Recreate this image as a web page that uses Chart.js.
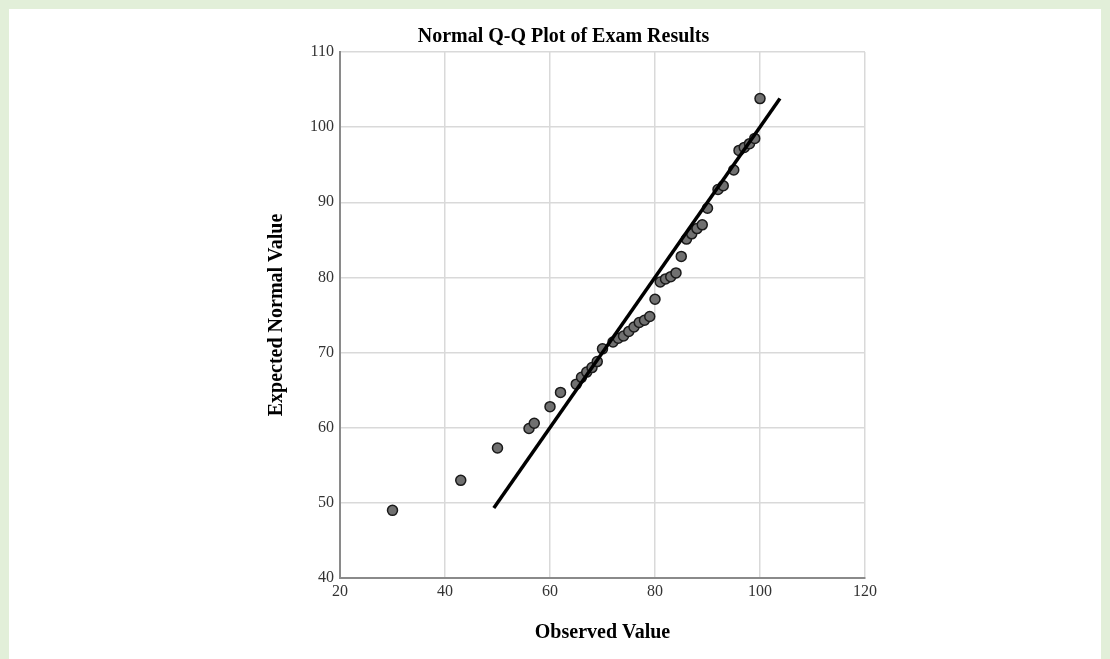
<!DOCTYPE html>
<html>
<head>
<meta charset="utf-8">
<script src="https://cdn.jsdelivr.net/npm/chart.js@4.4.1/dist/chart.umd.min.js"></script>
<style>
  html, body { margin: 0; padding: 0; }
  body { width: 1110px; height: 659px; background: #e2efd9; position: relative; overflow: hidden; }
  #sheet { position: absolute; left: 9px; top: 9px; right: 9px; bottom: 0; background: #fff; }
  #qqChart { position: absolute; left: 0; top: 0; }
</style>
</head>
<body>
<div id="sheet"></div>
<canvas id="qqChart" width="1110" height="659"></canvas>
<script>
// observed exam scores and their expected normal values
const observed = [30, 43, 50, 56, 57, 60, 62, 65, 66, 67, 68, 69, 70, 72, 73, 74, 75, 76, 77, 78,
                  79, 80, 81, 82, 83, 84, 85, 86, 87, 88, 89, 90, 92, 93, 95, 96, 97, 98, 99, 100];
const expected = [49.0, 53.0, 57.3, 59.9, 60.6, 62.8, 64.7, 65.8, 66.7, 67.4, 68.0, 68.8, 70.5, 71.4, 71.9, 72.2, 72.8, 73.4, 74.0, 74.3,
                  74.8, 77.1, 79.4, 79.8, 80.1, 80.6, 82.8, 85.1, 85.8, 86.5, 87.0, 89.2, 91.7, 92.2, 94.3, 96.9, 97.3, 97.8, 98.5, 103.8];

// reference line (y = x) end points
const refLine = [49.3, 103.8];

// axis ticks
const xTicks = [20, 40, 60, 80, 100, 120];
const yTicks = [40, 50, 60, 70, 80, 90, 100, 110];

const serif = "'Liberation Serif', 'Times New Roman', serif";

const points = observed.map((v, i) => ({ x: v, y: expected[i] }));
const linePts = refLine.map(v => ({ x: v, y: v }));

new Chart(document.getElementById('qqChart'), {
    type: 'scatter',
    data: {
        datasets: [
            {
                type: 'line',
                data: linePts,
                borderColor: '#000',
                borderWidth: 3.5,
                pointRadius: 0,
                fill: false
            },
            {
                data: points,
                backgroundColor: '#707070',
                borderColor: '#1a1a1a',
                borderWidth: 1.5,
                pointRadius: 5
            }
        ]
    },
    options: {
        responsive: false,
        animation: false,
        devicePixelRatio: 1,
        layout: { padding: { left: 262, right: 245, top: 25, bottom: 0 } },
        plugins: {
            legend: { display: false },
            tooltip: { enabled: false },
            title: {
                display: true,
                text: 'Normal Q-Q Plot of Exam Results',
                color: '#000',
                font: { family: serif, size: 20, weight: 'bold' },
                padding: { top: 0, bottom: 3 }
            }
        },
        scales: {
            x: {
                type: 'linear',
                min: 20,
                max: 120,
                afterBuildTicks: s => { s.ticks = xTicks.map(v => ({ value: v })); },
                afterFit: s => { s.height = 81; },
                border: { color: '#8a8a8a', width: 2 },
                grid: { color: '#d9d9d9', lineWidth: 1.5, drawTicks: false },
                ticks: { color: '#333', font: { family: serif, size: 16 }, padding: 4, maxRotation: 0 },
                title: {
                    display: true,
                    text: 'Observed Value',
                    color: '#000',
                    font: { family: serif, size: 20, weight: 'bold' },
                    padding: { top: 0, bottom: 14 }
                }
            },
            y: {
                type: 'linear',
                min: 40,
                max: 110,
                afterBuildTicks: s => { s.ticks = yTicks.map(v => ({ value: v })); },
                afterFit: s => { s.width = 78; },
                border: { color: '#8a8a8a', width: 2 },
                grid: { color: '#d9d9d9', lineWidth: 1.5, drawTicks: false },
                ticks: { color: '#333', font: { family: serif, size: 16 }, padding: 6 },
                title: {
                    display: true,
                    text: 'Expected Normal Value',
                    color: '#000',
                    font: { family: serif, size: 20, weight: 'bold' },
                    padding: { top: 3, bottom: 0 }
                }
            }
        }
    }
});
</script>
</body>
</html>
